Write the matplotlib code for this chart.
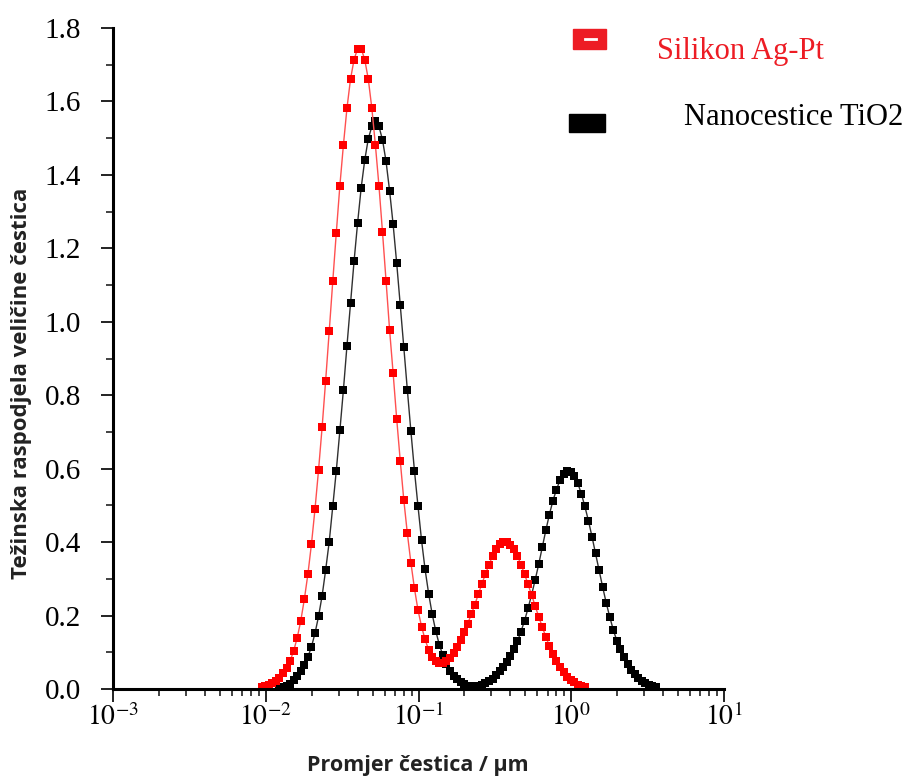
#!/usr/bin/env python3
# pylint: disable=invalid-name
# pylint: disable=missing-module-docstring

import matplotlib
matplotlib.use("Agg")
import matplotlib.pyplot as plt
from matplotlib.ticker import MultipleLocator, LogLocator, NullFormatter
from matplotlib.patches import Rectangle

# particle size grid (um), shared by both samples
size_um = [
    0.009414, 0.009932, 0.01048, 0.01105, 0.01166, 0.01230, 0.01298, 0.01369,
    0.01445, 0.01524, 0.01608, 0.01696, 0.01790, 0.01888, 0.01992, 0.02101,
    0.02217, 0.02339, 0.02467, 0.02603, 0.02746, 0.02897, 0.03057, 0.03225,
    0.03402, 0.03589, 0.03786, 0.03995, 0.04214, 0.04446, 0.04690, 0.04948,
    0.05220, 0.05507, 0.05810, 0.06130, 0.06467, 0.06822, 0.07197, 0.07593,
    0.08011, 0.08451, 0.08916, 0.09406, 0.09923, 0.1047, 0.1104, 0.1165,
    0.1229, 0.1297, 0.1368, 0.1443, 0.1523, 0.1607, 0.1695, 0.1788,
    0.1886, 0.1990, 0.2099, 0.2215, 0.2337, 0.2465, 0.2601, 0.2744,
    0.2895, 0.3054, 0.3222, 0.3399, 0.3586, 0.3783, 0.3991, 0.4210,
    0.4442, 0.4686, 0.4944, 0.5216, 0.5503, 0.5805, 0.6124, 0.6461,
    0.6816, 0.7191, 0.7587, 0.8004, 0.8444, 0.8908, 0.9398, 0.9915,
    1.046, 1.104, 1.164, 1.228, 1.296, 1.367, 1.442, 1.522,
    1.605, 1.693, 1.787, 1.885, 1.989, 2.098, 2.213, 2.335,
    2.463, 2.599, 2.742, 2.892, 3.051, 3.219, 3.396, 3.583,
]

# Silikon Ag-Pt, starts at size_um[0]
silikon_start = 0
silikon = [
    0.005, 0.008, 0.011, 0.016, 0.023, 0.031, 0.043, 0.058, 0.077, 0.104,
    0.140, 0.186, 0.245, 0.313, 0.395, 0.490, 0.597, 0.713, 0.840, 0.974,
    1.110, 1.243, 1.371, 1.482, 1.582, 1.661, 1.714, 1.744, 1.744, 1.714,
    1.661, 1.582, 1.482, 1.371, 1.245, 1.112, 0.978, 0.860, 0.736, 0.622,
    0.515, 0.424, 0.344, 0.274, 0.215, 0.170, 0.135, 0.107, 0.088, 0.077,
    0.071, 0.070, 0.075, 0.085, 0.098, 0.114, 0.133, 0.155, 0.178, 0.203,
    0.230, 0.258, 0.287, 0.313, 0.339, 0.362, 0.381, 0.394, 0.401, 0.400,
    0.393, 0.380, 0.362, 0.339, 0.313, 0.285, 0.256, 0.226, 0.197, 0.169,
    0.142, 0.117, 0.095, 0.075, 0.059, 0.045, 0.034, 0.025, 0.018, 0.012,
    0.008, 0.005,
]

# Nanocestice TiO2, starts at size_um[5]
tio2_start = 5
tio2 = [
    0.003, 0.005, 0.008, 0.014, 0.024, 0.036, 0.049, 0.065, 0.087, 0.115,
    0.152, 0.198, 0.254, 0.324, 0.401, 0.497, 0.595, 0.704, 0.815, 0.935,
    1.050, 1.165, 1.270, 1.365, 1.440, 1.498, 1.532, 1.546, 1.532, 1.496,
    1.437, 1.357, 1.265, 1.160, 1.046, 0.931, 0.815, 0.702, 0.595, 0.498,
    0.405, 0.326, 0.260, 0.204, 0.158, 0.121, 0.092, 0.068, 0.050, 0.036,
    0.026, 0.018, 0.013, 0.009, 0.007, 0.006, 0.008, 0.011, 0.016, 0.021,
    0.028, 0.037, 0.048, 0.060, 0.074, 0.090, 0.108, 0.130, 0.156, 0.186,
    0.220, 0.257, 0.297, 0.340, 0.386, 0.432, 0.475, 0.513, 0.543, 0.569,
    0.586, 0.594, 0.591, 0.580, 0.560, 0.532, 0.497, 0.458, 0.415, 0.369,
    0.323, 0.278, 0.235, 0.196, 0.161, 0.131, 0.110, 0.088, 0.068, 0.052,
    0.040, 0.030, 0.023, 0.017, 0.012, 0.009, 0.006,
]

x_ticks = [1e-3, 1e-2, 1e-1, 1e0, 1e1]
x_ticklabels = [r"$10^{-3}$", r"$10^{-2}$", r"$10^{-1}$", r"$10^{0}$", r"$10^{1}$"]
y_ticks = [0.0, 0.2, 0.4, 0.6, 0.8, 1.0, 1.2, 1.4, 1.6, 1.8]

plt.rcParams["mathtext.fontset"] = "stix"

fig = plt.figure(figsize=(9.08, 7.78), dpi=100)
ax = fig.add_axes([113 / 908, 89 / 778, 611 / 908, 661 / 778])

x_tio2 = size_um[tio2_start:tio2_start + len(tio2)]
x_sil = size_um[silikon_start:silikon_start + len(silikon)]

ax.plot(x_tio2, tio2, color="#303030", lw=1.0, marker="s", ms=5.3,
        mfc="black", mec="black", mew=0)
ax.plot(x_sil, silikon, color="#ff5050", lw=1.0, marker="s", ms=5.3,
        mfc="#ff0000", mec="#ff0000", mew=0)

ax.set_xscale("log")
ax.set_xlim(1e-3, 1e1)
ax.set_ylim(0.0, 1.8)

ax.set_xticks(x_ticks)
ax.set_xticklabels(x_ticklabels, fontsize=20)
ax.xaxis.set_minor_locator(LogLocator(base=10, subs=range(2, 10)))
ax.xaxis.set_minor_formatter(NullFormatter())

ax.set_yticks(y_ticks)
ax.set_yticklabels(["{:.1f}".format(v) for v in y_ticks],
                   fontsize=21, family="Liberation Serif")
ax.yaxis.set_minor_locator(MultipleLocator(0.1))

for s in ["top", "right"]:
    ax.spines[s].set_visible(False)
for s in ["left", "bottom"]:
    ax.spines[s].set_linewidth(2.2)

ax.tick_params(axis="both", which="major", direction="out", length=9,
               width=1.4, color="#222222")
ax.tick_params(axis="both", which="minor", direction="out", length=5,
               width=1.2, color="#222222")
ax.tick_params(axis="y", which="major", pad=14)
ax.tick_params(axis="x", which="major", pad=1)

ax.set_xlabel("Promjer čestica / µm", fontsize=15.5, fontweight="bold",
              family="Open Sans", color="#222222")
ax.set_ylabel("Težinska raspodjela veličine čestica", fontsize=16,
              fontweight="bold", family="Open Sans", color="#222222")
ax.xaxis.set_label_coords((418 - 113) / 611, -(765 - 689) / 661)
ax.yaxis.set_label_coords(-(113 - 22) / 611, (689 - 383) / 661)
ax.xaxis.label.set_va("center")
ax.yaxis.label.set_va("center")

# legend drawn as in the original picture, in pixel coordinates
lg = fig.add_axes([0, 0, 1, 1])
lg.set_xlim(0, 908)
lg.set_ylim(778, 0)
lg.axis("off")
lg.add_patch(Rectangle((573, 29), 33, 20, color="#ed1c24"))
lg.plot([585, 596], [38.5, 38.5], color="white", lw=2)
lg.add_patch(Rectangle((569, 114), 36, 18, color="black"))
lg.text(657, 59, "Silikon Ag-Pt", color="#ed1c24", fontsize=22,
        family="Liberation Serif", va="baseline")
lg.text(684, 125, "Nanocestice TiO2", color="black", fontsize=22,
        family="Liberation Serif", va="baseline")

fig.savefig("out.png", dpi=100)
